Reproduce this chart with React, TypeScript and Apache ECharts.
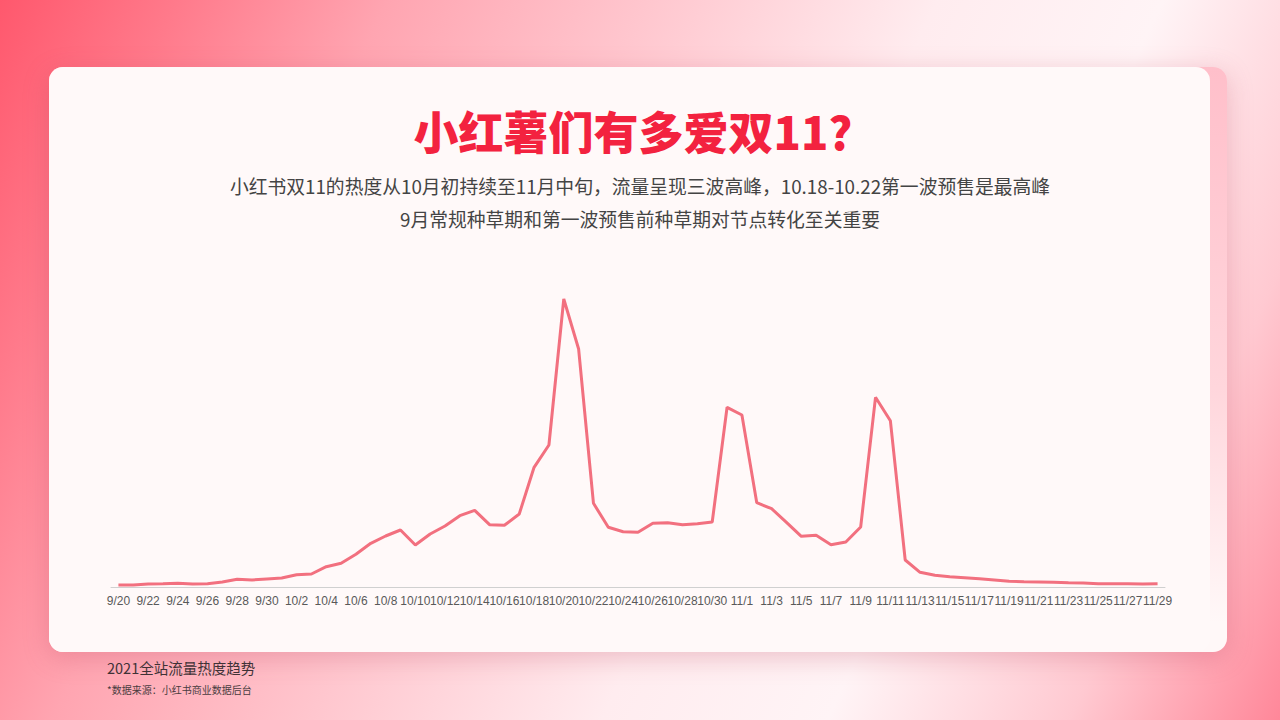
import React, { useEffect, useRef } from "react";
import * as echarts from "echarts";

// 日期 9/20 - 11/29
const dates: string[] = [
  "9/20", "9/21", "9/22", "9/23", "9/24", "9/25", "9/26", "9/27", "9/28", "9/29", "9/30",
  "10/1", "10/2", "10/3", "10/4", "10/5", "10/6", "10/7", "10/8", "10/9", "10/10",
  "10/11", "10/12", "10/13", "10/14", "10/15", "10/16", "10/17", "10/18", "10/19", "10/20",
  "10/21", "10/22", "10/23", "10/24", "10/25", "10/26", "10/27", "10/28", "10/29", "10/30", "10/31",
  "11/1", "11/2", "11/3", "11/4", "11/5", "11/6", "11/7", "11/8", "11/9", "11/10",
  "11/11", "11/12", "11/13", "11/14", "11/15", "11/16", "11/17", "11/18", "11/19", "11/20",
  "11/21", "11/22", "11/23", "11/24", "11/25", "11/26", "11/27", "11/28", "11/29",
];

// 热度指数
const heat: number[] = [
  2, 2, 3, 3.3, 3.7, 3, 3.3, 5, 7.7, 7, 8,
  9, 12.3, 13, 20.3, 23.7, 32.7, 43.7, 51, 57, 42,
  53, 61, 71.3, 76.7, 62.3, 61.7, 73, 119.7, 142, 288,
  238, 83.7, 59.7, 55.3, 54.7, 63.7, 64.3, 62.3, 63.3, 65, 179.7,
  172, 84.3, 78.3, 64.7, 50.7, 51.7, 42.3, 45, 60, 189.7,
  166.3, 27, 14.7, 11.7, 10.3, 9.3, 8.3, 7, 5.7, 5.3,
  5, 4.7, 4.3, 4, 3.3, 3.3, 3.3, 3, 3.3,
];

const title = "小红薯们有多爱双11?";
const subtitleLines: string[] = [
  "小红书双11的热度从10月初持续至11月中旬，流量呈现三波高峰，10.18-10.22第一波预售是最高峰",
  "9月常规种草期和第一波预售前种草期对节点转化至关重要",
];
const footerTitle = "2021全站流量热度趋势";
const footerSource = "*数据来源：小红书商业数据后台";

const CJK = '"Noto Sans CJK SC", "Noto Sans", sans-serif';

const App: React.FC = () => {
  const chartRef = useRef<HTMLDivElement>(null);

  useEffect(() => {
    if (!chartRef.current) return;
    const chart = echarts.init(chartRef.current, null, { renderer: "svg" });

    const option = {
      animation: false,
      backgroundColor: "transparent",
      graphic: [
        {
          type: "text",
          x: 633,
          y: 130,
          style: {
            text: title,
            fill: "#f3223f",
            font: `900 45px ${CJK}`,
            align: "center",
            verticalAlign: "middle",
          },
        },
        ...subtitleLines.map((line, i) => ({
          type: "text",
          x: 640,
          y: 185 + i * 33,
          style: {
            text: line,
            fill: "#444444",
            font: `18.8px ${CJK}`,
            align: "center",
            verticalAlign: "middle",
          },
        })),
        {
          type: "text",
          x: 107,
          y: 667,
          style: {
            text: footerTitle,
            fill: "#3f3236",
            font: `14.5px ${CJK}`,
            verticalAlign: "middle",
          },
        },
        {
          type: "text",
          x: 107,
          y: 689,
          style: {
            text: footerSource,
            fill: "#4a3c40",
            font: `10px ${CJK}`,
            verticalAlign: "middle",
          },
        },
      ],
      grid: {
        left: 111,
        right: 115,
        top: 287,
        bottom: 133,
      },
      xAxis: {
        type: "category",
        data: dates,
        axisLine: { lineStyle: { color: "#d0d0d0" } },
        axisTick: { length: 5, lineStyle: { color: "#d0d0d0" } },
        axisLabel: {
          interval: 1,
          color: "#595959",
          fontSize: 12,
          fontFamily: "Liberation Sans, Arial, sans-serif",
          margin: 8,
        },
      },
      yAxis: {
        type: "value",
        min: 0,
        max: 300,
        show: false,
        splitLine: { show: false },
      },
      series: [
        {
          name: "热度",
          type: "line",
          data: heat,
          symbol: "none",
          lineStyle: { color: "#f2707f", width: 3 },
        },
      ],
    };

    chart.setOption(option);
    return () => {
      chart.dispose();
    };
  }, []);

  return (
    <div
      style={{
        position: "fixed",
        left: 0,
        top: 0,
        width: 1280,
        height: 720,
        overflow: "hidden",
        background:
          "linear-gradient(115deg, #ff586d 0%, #ff7a8b 11%, #ffa5b1 24%, #ffc6ce 40%, #ffecef 58%, #fff4f6 72%, #ffc9d1 87%, #ff8799 100%)",
      }}
    >
      {/* 背后的粉色卡片 */}
      <div
        style={{
          position: "absolute",
          left: 49,
          top: 67,
          width: 1178,
          height: 585,
          borderRadius: 14,
          background: "linear-gradient(180deg, #ffbfca 0%, #ffd6dc 55%, #fff8f8 95%)",
          boxShadow: "0 6px 26px rgba(190, 70, 95, 0.28)",
        }}
      />
      {/* 白色主卡片 */}
      <div
        style={{
          position: "absolute",
          left: 49,
          top: 67,
          width: 1161,
          height: 585,
          borderRadius: 14,
          background: "#fff9f9",
        }}
      />
      <div
        ref={chartRef}
        style={{ position: "absolute", left: 0, top: 0, width: 1280, height: 720 }}
      />
    </div>
  );
};

export default App;
